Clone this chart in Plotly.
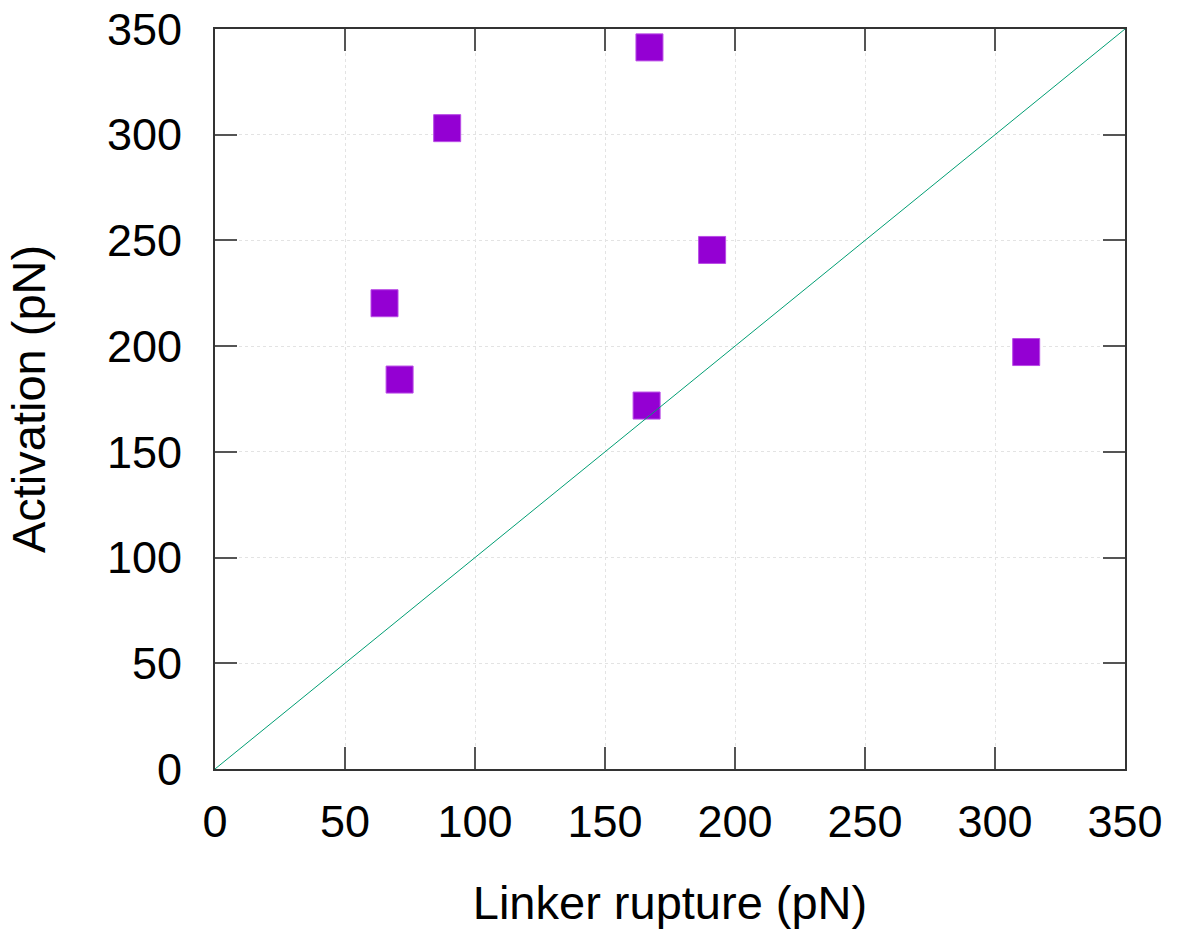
import plotly.graph_objects as go

# Rupture forces: linker rupture vs. activation (pN)
linker_rupture = [65.2, 71.0, 89.3, 167.1, 166.0, 191.2, 312.0]
activation = [220.3, 184.2, 303.1, 341.3, 171.9, 245.5, 197.2]

# y = x reference line
diag = [0, 350]

tick_vals = [0, 50, 100, 150, 200, 250, 300, 350]

fig = go.Figure()

fig.add_trace(go.Scatter(
    x=linker_rupture, y=activation, mode="markers",
    marker=dict(symbol="square", size=27, color="#9400D3",
                line=dict(color="#b94be6", width=1)),
    showlegend=False,
))

fig.add_trace(go.Scatter(
    x=diag, y=diag, mode="lines",
    line=dict(color="#009e73", width=1),
    showlegend=False,
))

axis_common = dict(
    range=[0, 350],
    tickvals=tick_vals,
    ticks="inside",
    ticklen=22,
    tickwidth=1.5,
    tickcolor="#555555",
    showline=True,
    linecolor="#333333",
    linewidth=2,
    mirror="allticks",
    showgrid=True,
    gridcolor="#e3e3e3",
    griddash="dot",
    gridwidth=1,
    zeroline=False,
    automargin=False,
    tickfont=dict(family="Liberation Sans, Arial, sans-serif", size=45, color="black"),
    title_font=dict(family="Liberation Sans, Arial, sans-serif", size=47, color="black"),
)

fig.update_xaxes(**axis_common, title_text="Linker rupture (pN)",
                 ticklabelstandoff=12, title_standoff=40)
fig.update_yaxes(**axis_common, title_text="Activation (pN)",
                 ticklabelstandoff=22, title_standoff=46)

fig.update_layout(
    width=1181, height=931,
    margin=dict(l=215, r=56, t=29, b=162),
    plot_bgcolor="white",
    paper_bgcolor="white",
)

fig.write_html("out.html")
